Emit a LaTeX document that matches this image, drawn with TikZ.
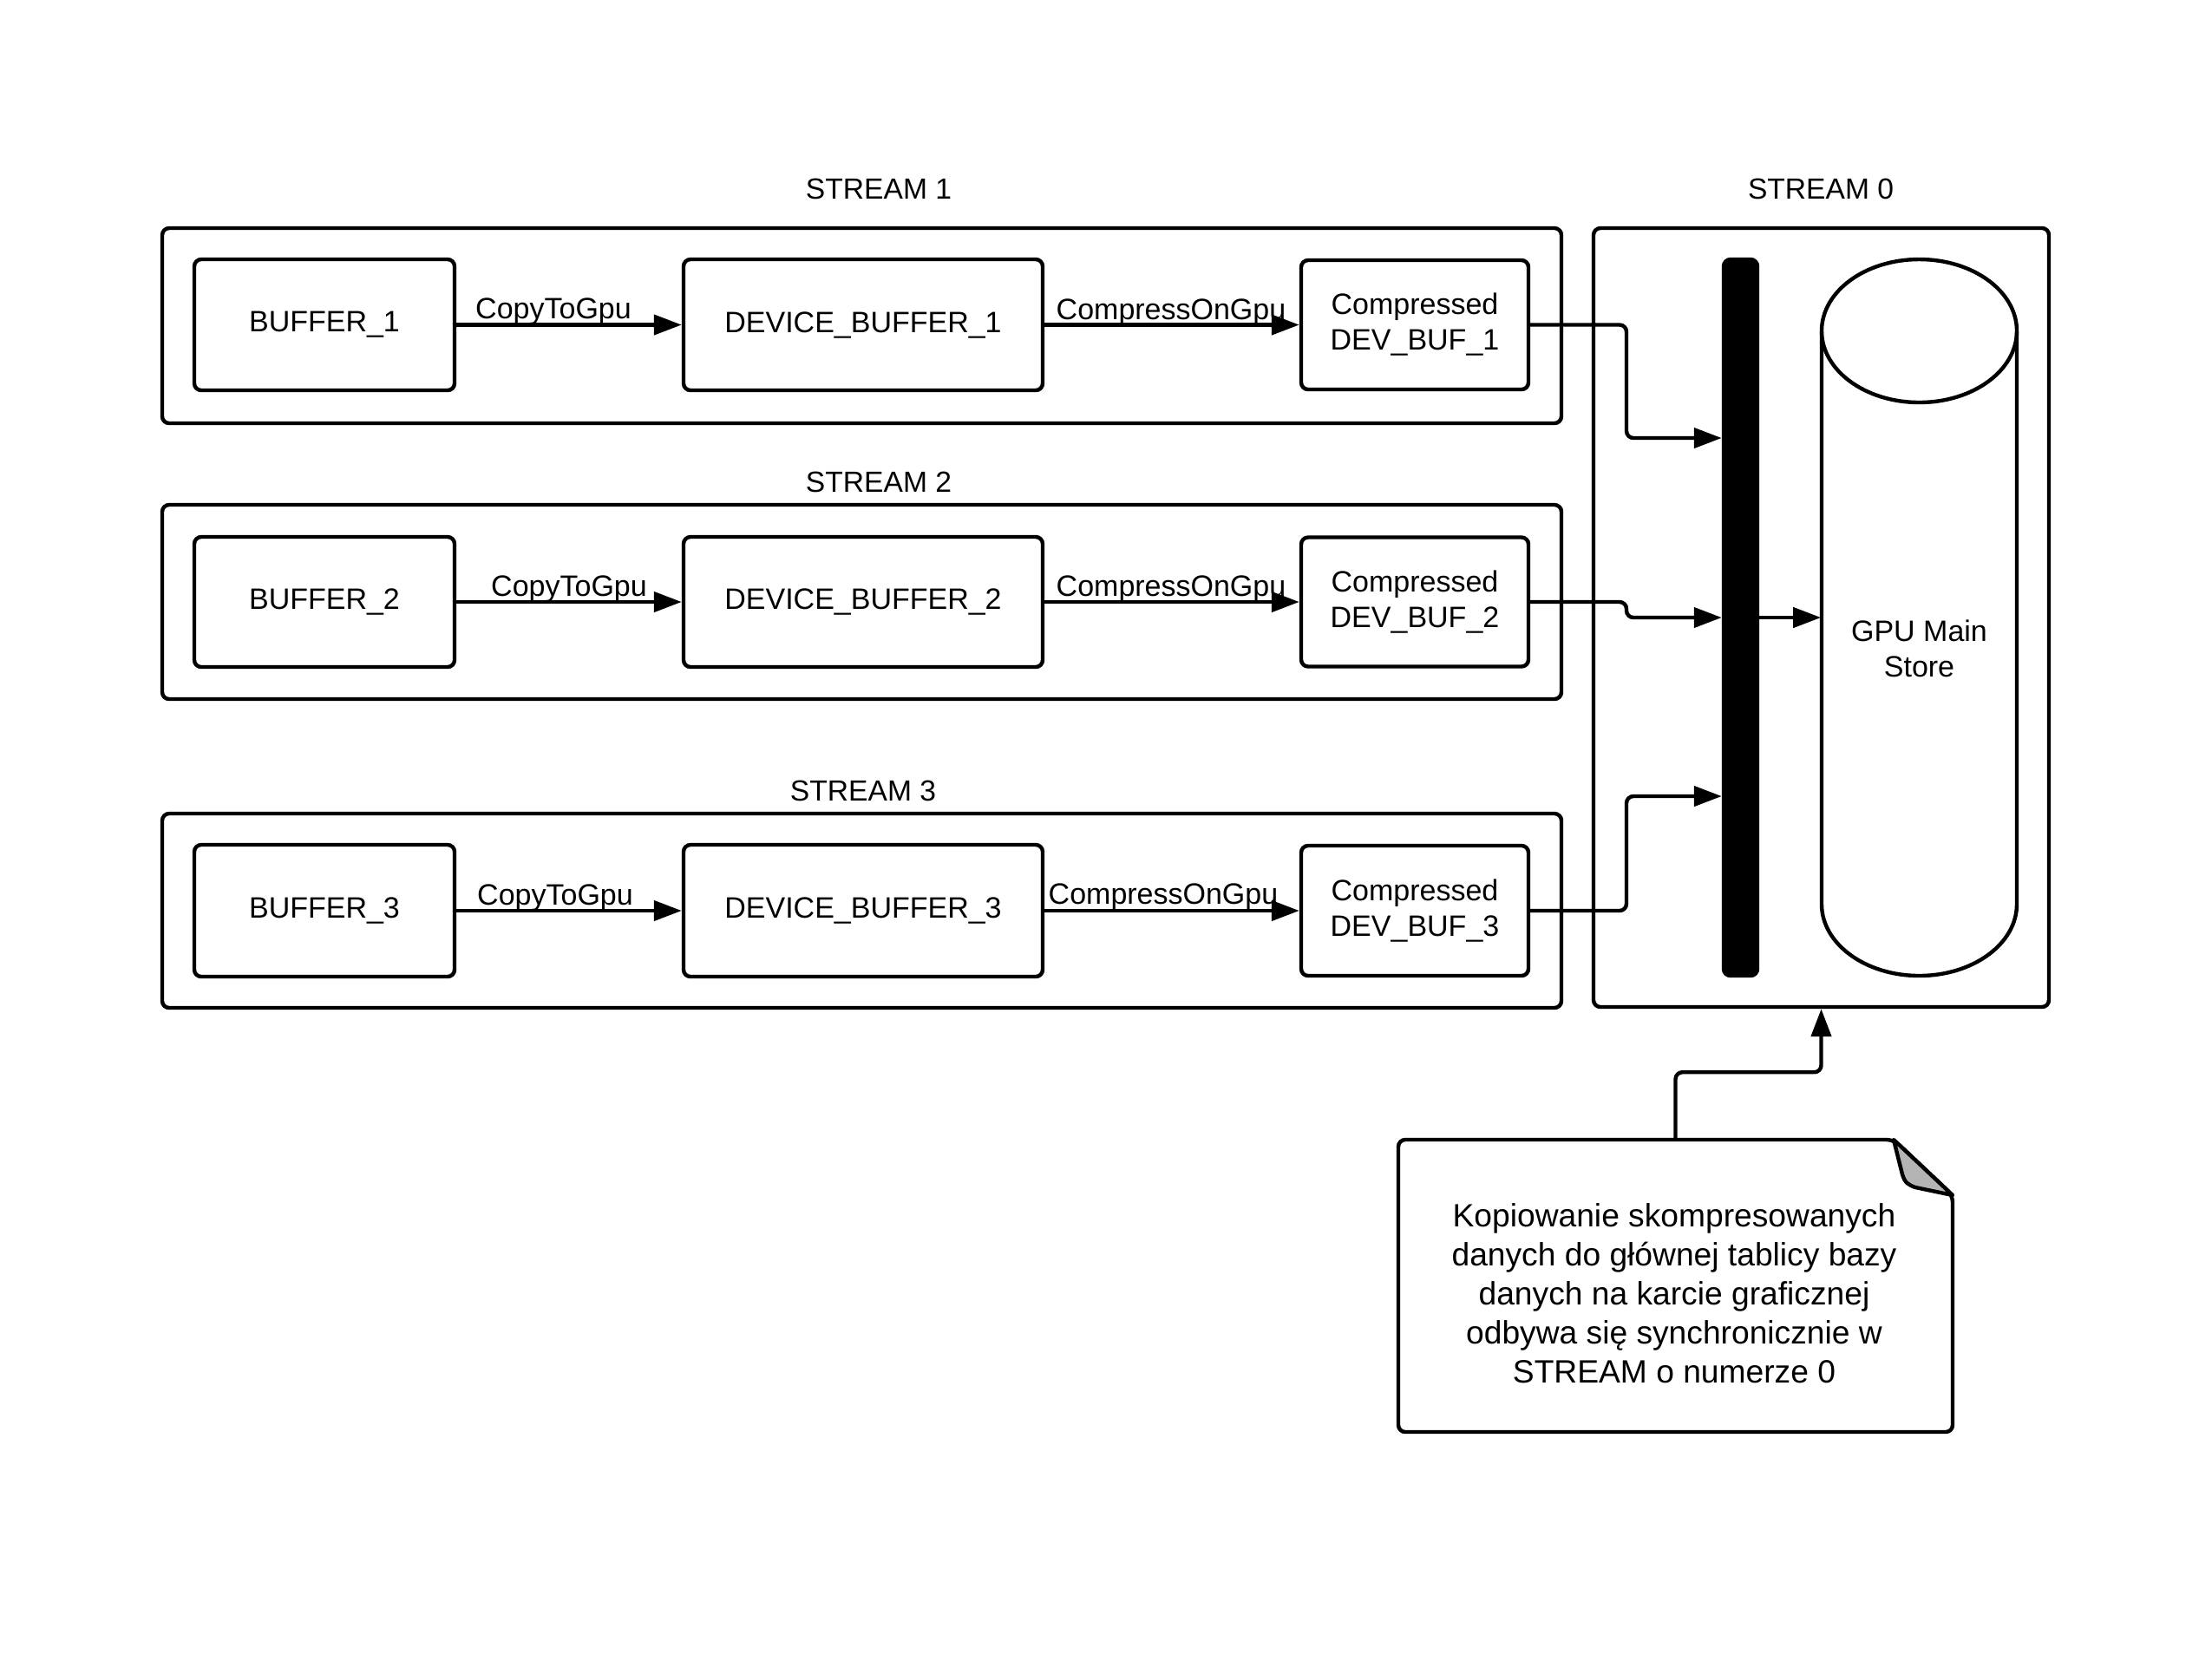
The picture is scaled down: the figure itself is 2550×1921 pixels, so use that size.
\documentclass[tikz,border=0pt]{standalone}
\usepackage{fontspec}
\setmainfont{Liberation Sans}
\usetikzlibrary{arrows.meta}
\definecolor{flapgray}{RGB}{180,180,180}
\begin{document}
\begin{tikzpicture}[x=0.25pt,y=-0.25pt,
  box/.style={draw, line width=1.1pt, rounded corners=2pt, inner sep=0pt, align=center, font=\fontsize{8.5}{10.25}\selectfont},
  streambox/.style={draw, line width=1.1pt, rounded corners=2pt, inner sep=0pt},
  conn/.style={line width=1.1pt, -{Triangle[length=8pt,width=5.75pt]}, rounded corners=2pt},
  lbl/.style={font=\fontsize{8.5}{10}\selectfont, anchor=base, inner sep=0pt},
  title/.style={font=\fontsize{8.4}{10}\selectfont, anchor=base, inner sep=0pt},
  boxtext/.style={align=center, inner sep=0pt, font=\fontsize{8.5}{10.25}\selectfont},
  notetext/.style={align=center, inner sep=0pt, font=\fontsize{9.3}{11.25}\selectfont}
]
\useasboundingbox (0,0) rectangle (2550,1921);

% stream containers
\node[streambox, minimum width=403.25pt, minimum height=56.25pt] (s1) at (993.5,375.5) {};
\node[streambox, minimum width=403.25pt, minimum height=56pt] (s2) at (993.5,694) {};
\node[streambox, minimum width=403.25pt, minimum height=56pt] (s3) at (993.5,1050) {};
\node[streambox, minimum width=131.25pt, minimum height=224.5pt] (s0) at (2099.5,712) {};

% titles
\node[title] (t1) at (1013,229) {STREAM 1};
\node[title] (t2) at (1013,567) {STREAM 2};
\node[title] (t3) at (995,923) {STREAM 3};
\node[title] (t0) at (2099,229) {STREAM 0};

% row 1
\node[box, minimum width=75pt, minimum height=37.75pt] (b1) at (374,374.5) {BUFFER\_1};
\node[box, minimum width=103.5pt, minimum height=37.75pt] (d1) at (995,374.5) {DEVICE\_BUFFER\_1};
\node[box, minimum width=65.5pt, minimum height=37.25pt] (c1) at (1631,374.5) {Compressed\\DEV\_BUF\_1};
% row 2
\node[box, minimum width=75pt, minimum height=37.5pt] (b2) at (374,694) {BUFFER\_2};
\node[box, minimum width=103.5pt, minimum height=37.5pt] (d2) at (995,694) {DEVICE\_BUFFER\_2};
\node[box, minimum width=65.5pt, minimum height=37.25pt] (c2) at (1631,694) {Compressed\\DEV\_BUF\_2};
% row 3
\node[box, minimum width=75pt, minimum height=38pt] (b3) at (374,1050) {BUFFER\_3};
\node[box, minimum width=103.5pt, minimum height=38pt] (d3) at (995,1050) {DEVICE\_BUFFER\_3};
\node[box, minimum width=65.5pt, minimum height=37.5pt] (c3) at (1631,1050) {Compressed\\DEV\_BUF\_3};

% arrows inside streams
\draw[conn] (b1.east) -- (d1.west);
\draw[conn] (d1.east) -- (c1.west);
\draw[conn] (b2.east) -- (d2.west);
\draw[conn] (d2.east) -- (c2.west);
\draw[conn] (b3.east) -- (d3.west);
\draw[conn] (d3.east) -- (c3.west);
\node[lbl] (l1a) at (638,367) {CopyToGpu};
\node[lbl] (l1b) at (1350,368) {CompressOnGpu};
\node[lbl] (l2a) at (656,687) {CopyToGpu};
\node[lbl] (l2b) at (1350,687) {CompressOnGpu};
\node[lbl] (l3a) at (640,1043) {CopyToGpu};
\node[lbl] (l3b) at (1341,1042) {CompressOnGpu};

% sync bar
\node[draw, fill=black, line width=1.1pt, rounded corners=2pt, inner sep=0pt, minimum width=9.75pt, minimum height=206.5pt] (bar) at (2006.5,712) {};

% cylinder
\node[inner sep=0pt, minimum width=56.25pt, minimum height=206.5pt] (store) at (2212.5,712) {};
\draw[line width=1.1pt] (2212.5,381.5) ellipse [x radius=28.125pt, y radius=20.625pt];
\draw[line width=1.1pt] (2100,381.5) -- (2100,1042.5) arc[start angle=180, end angle=360, x radius=28.125pt, y radius=20.625pt] -- (2325,381.5);
\node[boxtext] (storetxt) at (2212.5,748) {GPU Main\\Store};

% connectors to bar
\coordinate (k1) at (1875,505);
\coordinate (k3) at (1875,918);
\draw[conn] (c1.east) -| (k1) -- (bar.west |- k1);
\draw[conn] (c2.east) -- (1875,694) -- (1875,712) -- (bar.west);
\draw[conn] (c3.east) -| (k3) -- (bar.west |- k3);
\draw[conn] (bar.east) -- (store.west);

% note
\draw[line width=1.1pt, rounded corners=2pt, fill=white] (2183,1314) -- (1612,1314) -- (1612,1651) -- (2251,1651) -- (2251,1378) -- cycle;
\draw[line width=1.1pt, fill=flapgray, line join=round] (2183,1314) -- (2193,1354) .. controls (2196,1364) and (2200,1366) .. (2208,1369) -- (2251,1378) -- cycle;
\node[inner sep=0pt, minimum width=159.75pt, minimum height=84.25pt] (note) at (1931.5,1482.5) {};
\node[notetext] (ntext) at (1930,1491) {Kopiowanie skompresowanych\\danych do głównej tablicy bazy\\danych na karcie graficznej\\odbywa się synchronicznie w\\STREAM o numerze 0};
\draw[conn] (note.north) -- ++(0,-77) -| (s0.south);
\end{tikzpicture}
\end{document}
